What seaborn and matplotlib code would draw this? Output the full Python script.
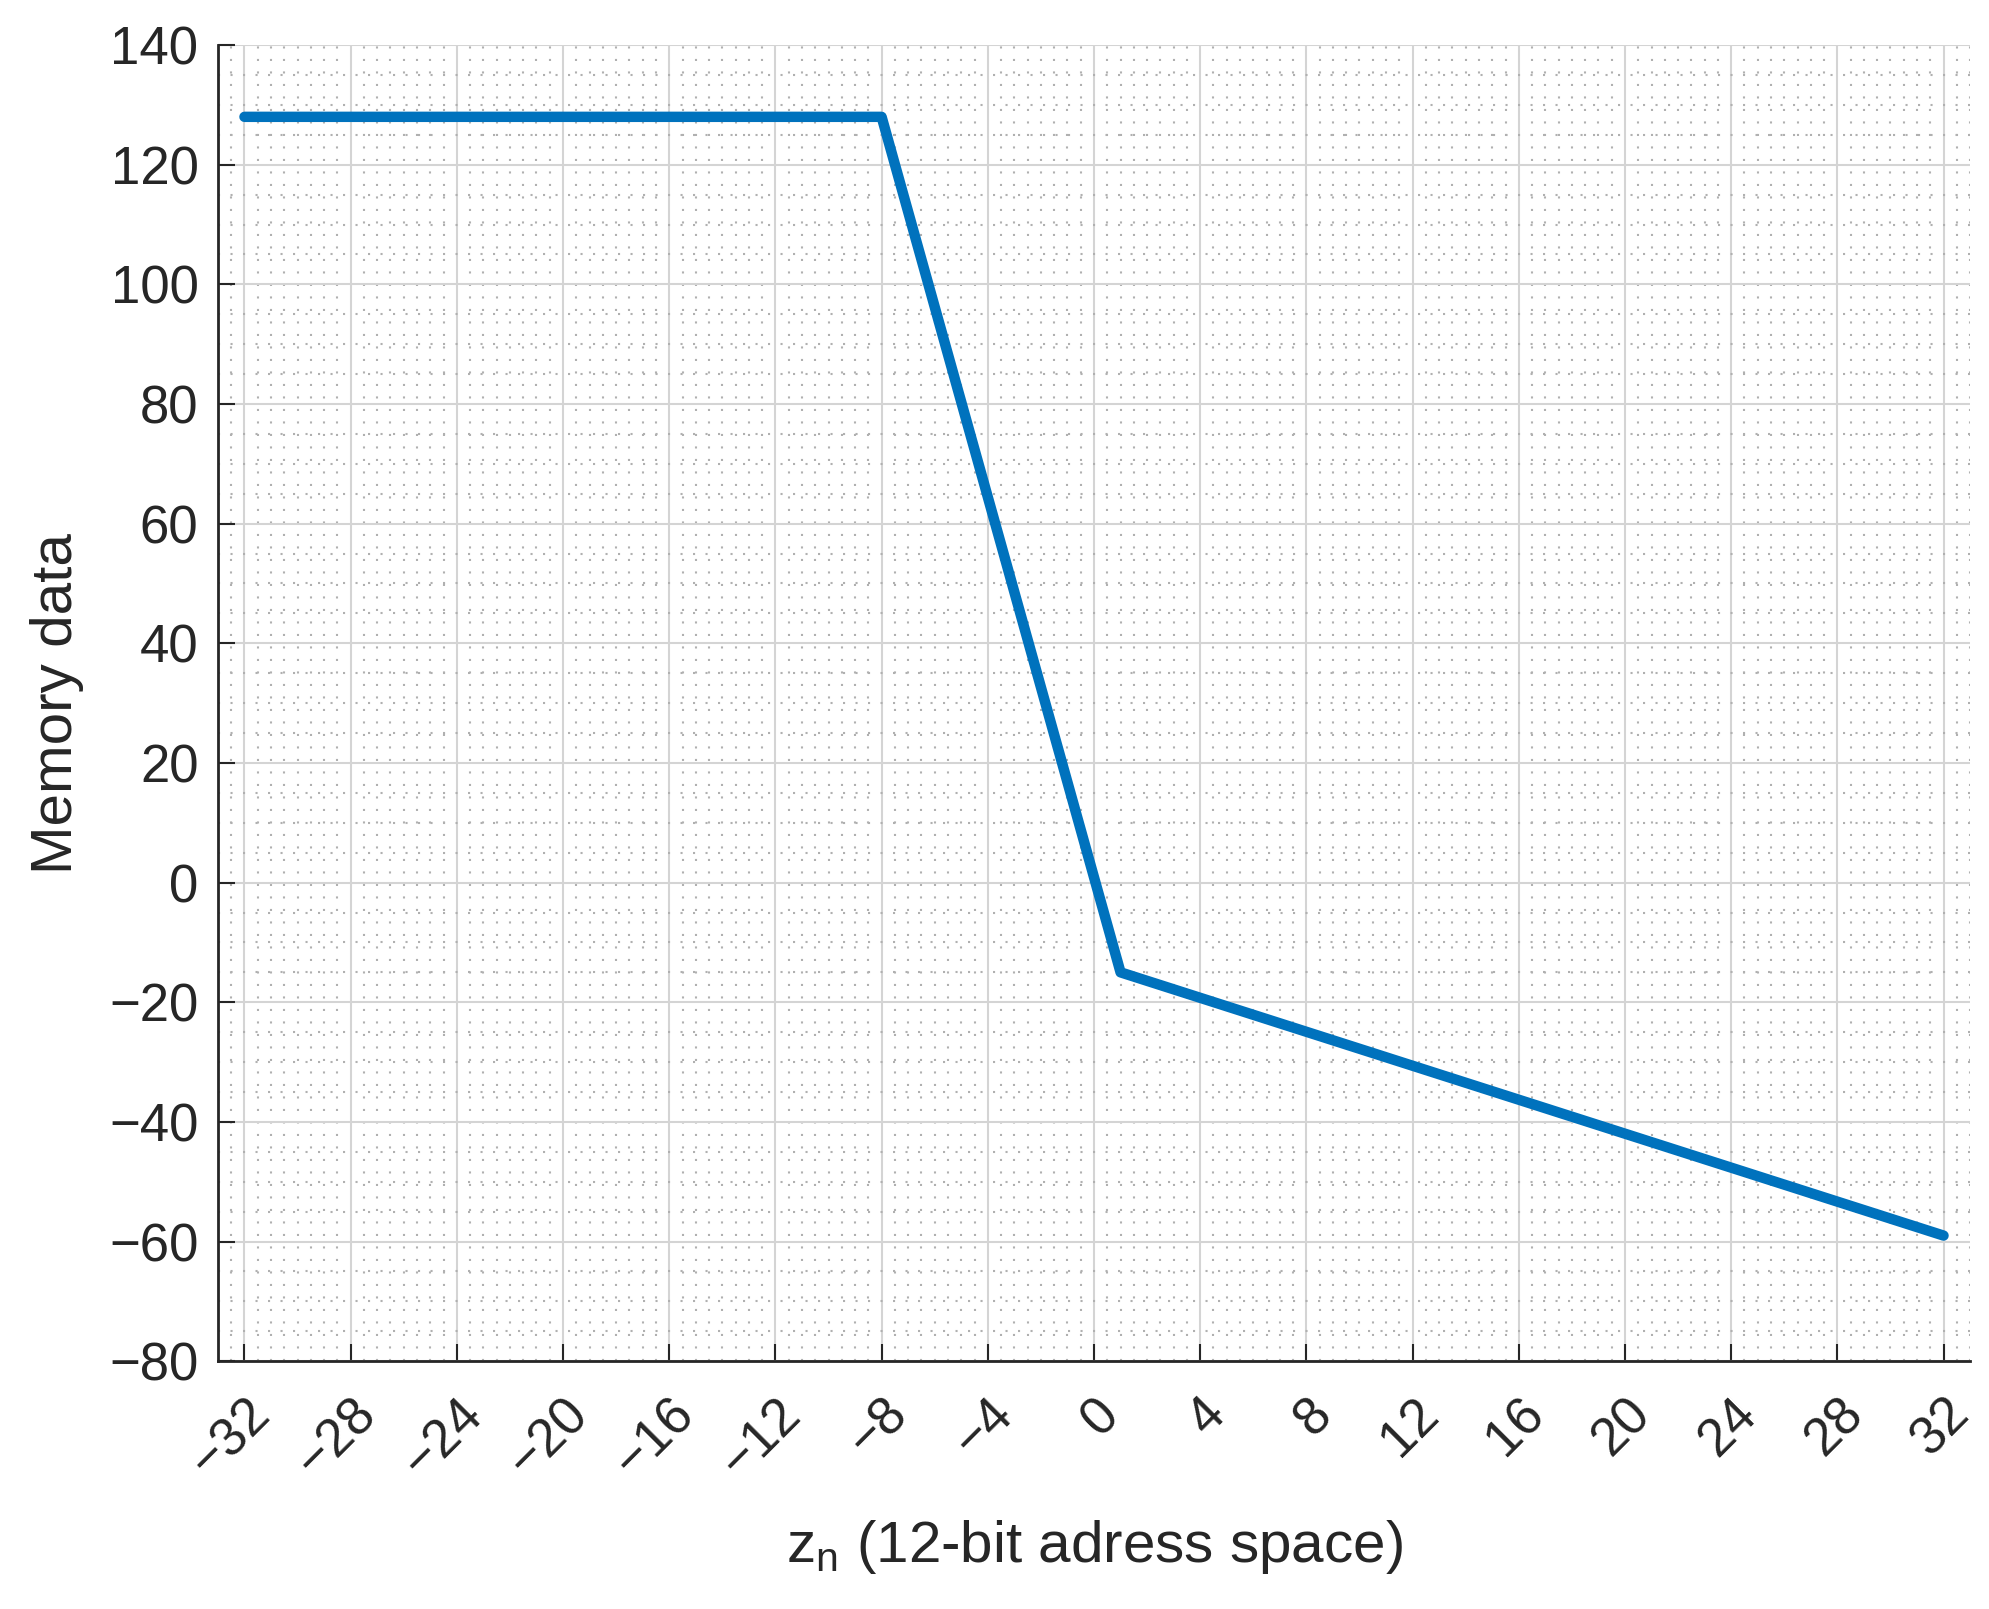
import seaborn as sns
import pandas as pd
import numpy as np
import matplotlib.pyplot as plt
from matplotlib.ticker import MultipleLocator

# breakpoints of the lookup curve
addr = [-32, -8, 1, 32]
mem = [128, 128, -15, -59]
xticks = list(range(-32, 33, 4))
yticks = list(range(-80, 141, 20))

sns.set_theme(style='white')
plt.rcParams['font.family'] = ['Liberation Sans', 'DejaVu Sans']
plt.rcParams['mathtext.fontset'] = 'custom'
plt.rcParams['mathtext.rm'] = 'Liberation Sans'
plt.rcParams['mathtext.it'] = 'Liberation Sans'

df = pd.DataFrame({'z': addr, 'data': mem})

fig = plt.figure(figsize=(19.9, 16.09), dpi=100)
ax = fig.add_axes([0.1095, 0.154, 0.8805, 0.818])
sns.lineplot(x='z', y='data', data=df, ax=ax, color='#0072BD', linewidth=7.5, zorder=5)

ax.set_xlim(-33, 33)
ax.set_ylim(-80, 140)
ax.set_xticks(xticks)
ax.set_yticks(yticks)
ax.xaxis.set_minor_locator(MultipleLocator(0.5))
ax.yaxis.set_minor_locator(MultipleLocator(5))

ax.grid(which='major', color='#d4d4d4', linewidth=1.5, zorder=0)
ax.grid(which='minor', color='#b0b0b0', linewidth=1.5, linestyle=(0, (1, 5)), zorder=0)
ax.set_axisbelow(True)

for s in ['top', 'right']:
    ax.spines[s].set_visible(False)
for s in ['left', 'bottom']:
    ax.spines[s].set_color('#262626')
    ax.spines[s].set_linewidth(2)

ax.tick_params(which='major', direction='in', length=12, width=1.5, color='#262626',
               labelsize=38, labelcolor='#262626', pad=14, left=True, bottom=True)
ax.tick_params(axis='x', which='major', pad=20)
ax.tick_params(which='minor', length=0)
ax.set_xticklabels([str(t).replace('-', '\u2212') for t in xticks], rotation=45,
                   ha='right', rotation_mode='anchor')

ax.set_xlabel(r'z$_\mathrm{n}$ (12-bit adress space)', fontsize=42, color='#262626', labelpad=22)
ax.set_ylabel('Memory data', fontsize=42, color='#262626', labelpad=18)

fig.savefig('out.png', dpi=100)
